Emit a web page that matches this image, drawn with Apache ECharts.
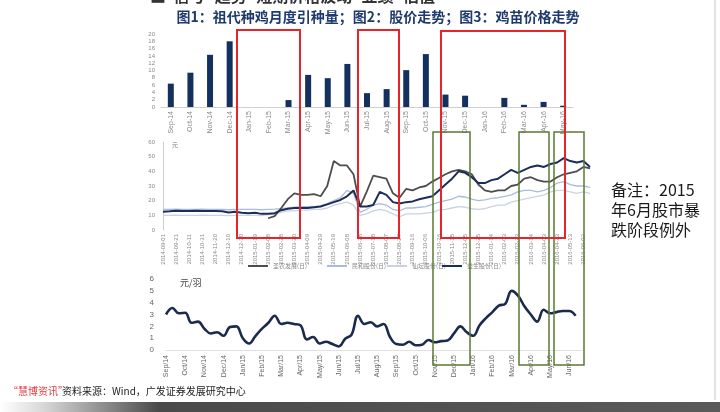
<!DOCTYPE html>
<html><head><meta charset="utf-8">
<script src="https://cdn.jsdelivr.net/npm/echarts@6/dist/echarts.min.js"></script>
<style>html,body{margin:0;padding:0;background:#fff}#c{width:720px;height:412px}</style>
</head><body><div id="c"></div>
<script>
// ---- Chart 1: monthly grandparent stock imports ----
const barMonths = ['Sep-14','Oct-14','Nov-14','Dec-14','Jan-15','Feb-15','Mar-15','Apr-15','May-15','Jun-15','Jul-15','Aug-15','Sep-15','Oct-15','Nov-15','Dec-15','Jan-16','Feb-16','Mar-16','Apr-16','May-16'];
const barValues = [6.4,9.4,14.3,18.0,0,0,1.9,8.8,7.9,11.8,3.8,4.9,10.1,14.5,3.4,3.1,0,2.5,0.6,1.4,0.35];

// ---- Chart 2: stock prices ----
const stockDates = ['2014-09-01','2014-09-11','2014-09-21','2014-10-01','2014-10-11','2014-10-21','2014-10-31','2014-11-10','2014-11-20','2014-11-30','2014-12-10','2014-12-20','2014-12-30','2015-01-09','2015-01-19','2015-01-29','2015-02-08','2015-02-18','2015-02-28','2015-03-10','2015-03-20','2015-03-30','2015-04-09','2015-04-19','2015-04-29','2015-05-09','2015-05-19','2015-05-29','2015-06-08','2015-06-18','2015-06-28','2015-07-08','2015-07-18','2015-07-28','2015-08-07','2015-08-17','2015-08-27','2015-09-06','2015-09-16','2015-09-26','2015-10-06','2015-10-16','2015-10-26','2015-11-05','2015-11-15','2015-11-25','2015-12-05','2015-12-15','2015-12-25','2016-01-04','2016-01-14','2016-01-24','2016-02-03','2016-02-13','2016-02-23','2016-03-04','2016-03-14','2016-03-24','2016-04-03','2016-04-13','2016-04-23','2016-05-03','2016-05-13','2016-05-23','2016-06-02','2016-06-12'];
const stockA = [12.5,12.8,13.2,13.0,13.0,13.2,13.0,13.0,13.0,12.8,12.0,12.5,11.8,11.5,11.8,11.0,11.0,11.5,13.5,14.5,15.0,15.0,15.0,15.5,16.0,17.5,19.0,20.5,23.0,27.0,16.0,16.0,17.0,26.0,24.0,19.0,18.0,19.0,19.5,21.0,22.0,23.0,27.0,31.0,35.0,40.0,39.0,36.0,32.0,32.0,34.0,35.0,38.0,41.0,39.0,41.0,43.0,44.0,43.0,45.0,46.0,49.0,47.0,46.0,47.0,43.0];
const stockB = [null,null,null,null,null,null,null,null,null,null,null,null,null,null,null,null,8,9.5,15,21,25,24,24,24.5,23,30,47,44,44,38,16,26,37,36,35,25,22,28,27,29,30,33,35.5,38,40,41,40,38,31,27,26,27,27,30,31,35,36,34,33,33,36,38,39,40,43,42];
const stockC = [14,14,14.2,14,14,14,14.2,14,14,14,13.8,14,14,14,14,13.8,14,14.2,14.5,15,15.5,16,16,16,16.5,18,20,22,27,25,12,14,17,18,17,14,13,15,15,15.5,16,17.5,19,20,21,23,22.5,21,20,20.5,21.5,22,23,24,26,27,27,26,27,29,32,33,31,30,30,29];
const stockD = [10,10,10.2,10,10,10,10.2,10,10,10,9.8,10,10,10,10,9.8,10.5,11,12,13,13,13.5,13.5,14,14,15,17,18,19,17,10,11,13,14,13,11,9,11,11,11,11.5,12,13.5,14,15,16,15.5,14.5,14,14.5,16,17,17,19,20,21,22,23,24,26,27,27,26,25,26,25];
const stockNames = ['益生股份(日)','民和股份(日)','仙坛股份(日)','圣农发展(日)'];

// ---- Chart 3: chick price (元/羽) ----
const chickCats = ['Sep/14','','','Oct/14','','','Nov/14','','','Dec/14','','','Jan/15','','','Feb/15','','','Mar/15','','','Apr/15','','','May/15','','','Jun/15','','','Jul/15','','','Aug/15','','','Sep/15','','','Oct/15','','','Nov/15','','','Dec/15','','','Jan/16','','','Feb/16','','','Mar/16','','','Apr/16','','','May/16','','','Jun/16','',''];
const chickPrice = [3.0,3.55,3.1,3.15,2.3,2.4,1.8,1.4,1.5,1.2,1.95,2.0,1.0,0.55,1.2,1.8,2.3,2.9,2.2,2.3,2.2,2.1,0.9,1.1,0.55,0.7,0.5,0.3,0.95,1.3,2.9,2.2,2.35,2.0,2.2,1.1,0.5,0.45,0.7,0.4,0.45,0.85,0.65,0.75,0.8,1.4,2.0,1.5,1.2,2.1,2.7,3.2,3.75,3.9,5.0,4.6,3.7,3.0,2.4,3.4,3.1,3.2,3.3,3.3,2.9];

const titleText = '图1：祖代种鸡月度引种量；图2：股价走势；图3：鸡苗价格走势';
const noteLines = ['备注：2015','年6月股市暴','跌阶段例外'];

const chart = echarts.init(document.getElementById('c'), null, {renderer:'canvas'});
const cjk = '"Noto Sans CJK SC","Noto Sans",sans-serif';
const lblGray = '#8a8a8a';

const redBoxes = [[237,30,63,208],[358,30,41,208],[441,31,124,207]];
const greenBoxes = [[433,132,37,233],[519,132,30,233],[554,132,30,233]];

const graphics = [];
graphics.push({type:'text', left:150, top:-12, style:{text:'■  信号>趋势>短期价格波动>业绩>估值', font:'bold 16px '+cjk, fill:'#333'}});
graphics.push({type:'text', x:378, y:17, style:{text:titleText, font:'bold 14px '+cjk, fill:'#1f3a6e', align:'center', verticalAlign:'middle'}});
graphics.push({type:'text', x:172, y:145, style:{text:'元', font:'6px '+cjk, fill:'#777', verticalAlign:'middle'}});
graphics.push({type:'text', x:180, y:283, style:{text:'元/羽', font:'9px '+cjk, fill:'#444', verticalAlign:'middle'}});
noteLines.forEach((t,k)=>graphics.push({type:'text', x:611, y:190+k*20, style:{text:t, font:'16px '+cjk, fill:'#1a1a1a', verticalAlign:'middle'}}));
redBoxes.forEach(b=>graphics.push({type:'rect', shape:{x:b[0],y:b[1],width:b[2],height:b[3]}, style:{fill:'none', stroke:'#e8242b', lineWidth:2}, z:100}));
greenBoxes.forEach(b=>graphics.push({type:'rect', shape:{x:b[0],y:b[1],width:b[2],height:b[3]}, style:{fill:'none', stroke:'#5b7a33', lineWidth:1.5}, z:99}));
graphics.push({type:'line', shape:{x1:715,y1:0,x2:715,y2:400}, style:{stroke:'#e4e4e4', lineWidth:2}});
graphics.push({type:'rect', shape:{x:0,y:402,width:720,height:10}, style:{fill:new echarts.graphic.LinearGradient(0,0,1,0,[{offset:0,color:'#ffffff'},{offset:0.06,color:'#d8d8d8'},{offset:0.22,color:'#4a4a4a'},{offset:1,color:'#5a5a5a'}])}});
graphics.push({type:'text', x:8, y:391, style:{text:'“慧博资讯”', font:'10px '+cjk, fill:'#e03a3a', verticalAlign:'middle'}});
graphics.push({type:'text', x:62, y:391, style:{text:'资料来源：Wind，广发证券发展研究中心', font:'10px '+cjk, fill:'#222', verticalAlign:'middle'}});

// legend order in the picture: dark gray, light blue, lightest, navy
const legendPos = [[248,3],[327,1],[387,2],[442,0]];
const legends = legendPos.map(p=>({left:p[0], top:263, data:[stockNames[p[1]]], itemWidth:20, itemHeight:2, icon:'rect', textStyle:{fontSize:6, color:'#888', fontFamily:cjk}, padding:0, selectedMode:false}));

chart.setOption({
  animation:false,
  backgroundColor:'#fff',
  textStyle:{fontFamily:'"Liberation Sans",Arial,sans-serif'},
  legend: legends,
  graphic: graphics,
  grid:[
    {left:161, top:34, width:412, height:73},
    {left:163, top:142, width:427, height:88},
    {left:166, top:279, width:416, height:71}
  ],
  xAxis:[
    {gridIndex:0, type:'category', data:barMonths, boundaryGap:true,
      axisLine:{lineStyle:{color:'#d0d0d0'}}, axisTick:{show:false},
      axisLabel:{rotate:90, fontSize:7, color:lblGray, interval:0, margin:4}},
    {gridIndex:1, type:'category', data:stockDates, boundaryGap:false,
      axisLine:{show:false}, axisTick:{show:false},
      axisLabel:{rotate:90, fontSize:6, color:lblGray, interval:1, margin:4}},
    {gridIndex:2, type:'category', data:chickCats, boundaryGap:false,
      axisLine:{lineStyle:{color:'#e0e0e0'}}, axisTick:{show:false},
      axisLabel:{rotate:90, fontSize:7, color:'#666', interval:0, margin:5}}
  ],
  yAxis:[
    {gridIndex:0, type:'value', min:0, max:20, interval:2, splitLine:{show:false},
      axisLine:{show:false}, axisTick:{show:false}, axisLabel:{fontSize:6, color:lblGray, margin:6}},
    {gridIndex:1, type:'value', min:0, max:60, interval:10, splitLine:{show:false},
      axisLine:{show:true, lineStyle:{color:'#cfcfcf'}}, axisTick:{show:false}, axisLabel:{fontSize:6, color:lblGray, margin:8}},
    {gridIndex:2, type:'value', min:0, max:6, interval:1, splitLine:{show:false},
      axisLine:{show:false}, axisTick:{show:false}, axisLabel:{fontSize:8, color:'#666', margin:12}}
  ],
  series:[
    {type:'bar', xAxisIndex:0, yAxisIndex:0, data:barValues, barWidth:6, itemStyle:{color:'#14305e'}},
    {name:stockNames[2], type:'line', xAxisIndex:1, yAxisIndex:1, data:stockD, showSymbol:false, lineStyle:{width:1.3, color:'#c9d3e3'}, itemStyle:{color:'#c9d3e3'}},
    {name:stockNames[1], type:'line', xAxisIndex:1, yAxisIndex:1, data:stockC, showSymbol:false, lineStyle:{width:1.3, color:'#a9bcdc'}, itemStyle:{color:'#a9bcdc'}},
    {name:stockNames[3], type:'line', xAxisIndex:1, yAxisIndex:1, data:stockB, showSymbol:false, lineStyle:{width:1.8, color:'#4d4d4d'}, itemStyle:{color:'#4d4d4d'}},
    {name:stockNames[0], type:'line', xAxisIndex:1, yAxisIndex:1, data:stockA, showSymbol:false, lineStyle:{width:2, color:'#1c2d5a'}, itemStyle:{color:'#1c2d5a'}},
    {type:'line', xAxisIndex:2, yAxisIndex:2, data:chickPrice, showSymbol:false, smooth:0.4, lineStyle:{width:2.6, color:'#1b2a4e'}}
  ]
});
</script></body></html>
